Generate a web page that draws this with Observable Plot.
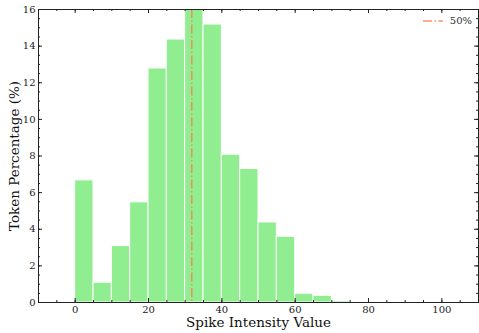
<!DOCTYPE html>
<html><head><meta charset="utf-8">
<script src="https://cdn.jsdelivr.net/npm/d3@7"></script>
<script src="https://cdn.jsdelivr.net/npm/@observablehq/plot@0.6"></script>
<style>
body{margin:0;background:#fff}
#wrap{position:relative;width:479px;height:333px}
#legend{position:absolute;top:15px;right:7px;display:flex;align-items:center;font-family:"DejaVu Serif",serif;font-size:10px;color:#333}
#legend svg{margin-right:7px}
</style>
</head><body><div id="wrap"><div id="legend"></div></div>
<script>
const binStarts = [0,5,10,15,20,25,30,35,40,45,50,55,60,65,70,75];
const binWidth = 5;
const percents = [6.67,1.08,3.08,5.47,12.78,14.36,16.0,15.18,8.07,7.29,4.37,3.59,0.48,0.37,0.09,0.0];
const medianValue = [31.8];
const medianLabel = "50%";
const xTicks = [0,20,40,60,80,100];
const yTicks = [0,2,4,6,8,10,12,14,16];
const xLabel = "Spike Intensity Value";
const yLabel = "Token Percentage (%)";

const bins = binStarts.map((s,i)=>({x1:s,x2:s+binWidth,y:percents[i]}));
const xMinor = d3.range(-10,111,5);
const yMinor = d3.range(0,16.01,0.5);

const W=479,H=333,mL=38,mR=1,mT=9,mB=31;
const pw=W-mL-mR, ph=H-mT-mB;
const maj=4, mnr=2;
const tickColor="#222";

const plot = Plot.plot({
  width:W,height:H,marginLeft:mL,marginRight:mR,marginTop:mT,marginBottom:mB,
  style:{fontFamily:"DejaVu Serif",fontSize:"10px",color:"#222",background:"#fff"},
  x:{domain:[-10,110]},
  y:{domain:[0,16]},
  marks:[
    Plot.rectY(bins,{x1:"x1",x2:"x2",y:"y",fill:"#90EE90",stroke:"#fff",strokeWidth:1,clip:true}),
    Plot.ruleX(medianValue,{x:d=>d,stroke:"#FF7F50",strokeOpacity:0.85,strokeWidth:1.5,strokeDasharray:"9,2.5,1.5,2.5"}),
    Plot.tickX(xMinor,{x:d=>d,insetTop:ph-mnr,stroke:tickColor}),
    Plot.tickX(xMinor,{x:d=>d,insetBottom:ph-mnr,stroke:tickColor}),
    Plot.tickX(xTicks,{x:d=>d,insetTop:ph-maj,stroke:tickColor}),
    Plot.tickX(xTicks,{x:d=>d,insetBottom:ph-maj,stroke:tickColor}),
    Plot.tickY(yMinor,{y:d=>d,insetRight:pw-mnr,stroke:tickColor}),
    Plot.tickY(yMinor,{y:d=>d,insetLeft:pw-mnr,stroke:tickColor}),
    Plot.tickY(yTicks,{y:d=>d,insetRight:pw-maj,stroke:tickColor}),
    Plot.tickY(yTicks,{y:d=>d,insetLeft:pw-maj,stroke:tickColor}),
    Plot.axisX({ticks:xTicks,tickSize:0,tickPadding:3,label:null,fill:"#222"}),
    Plot.axisY({ticks:yTicks,tickSize:0,tickPadding:3,label:null,fill:"#222"}),
    Plot.frame({stroke:"#222",strokeWidth:1}),
    Plot.text([xLabel],{text:d=>d,frameAnchor:"bottom",textAnchor:"middle",dy:24,fontSize:13.5,fill:"#111"}),
    Plot.text([yLabel],{text:d=>d,frameAnchor:"left",textAnchor:"middle",dx:-24,rotate:-90,fontSize:13.5,fill:"#111"})
  ]
});
document.getElementById("wrap").prepend(plot);
document.getElementById("legend").innerHTML =
  `<svg width="20" height="6"><line x1="0" y1="3" x2="20" y2="3" stroke="#FF7F50" stroke-opacity="0.85" stroke-width="1.5" stroke-dasharray="9,2.5,1.5,2.5"/></svg><span>${medianLabel}</span>`;
</script>
</body></html>
